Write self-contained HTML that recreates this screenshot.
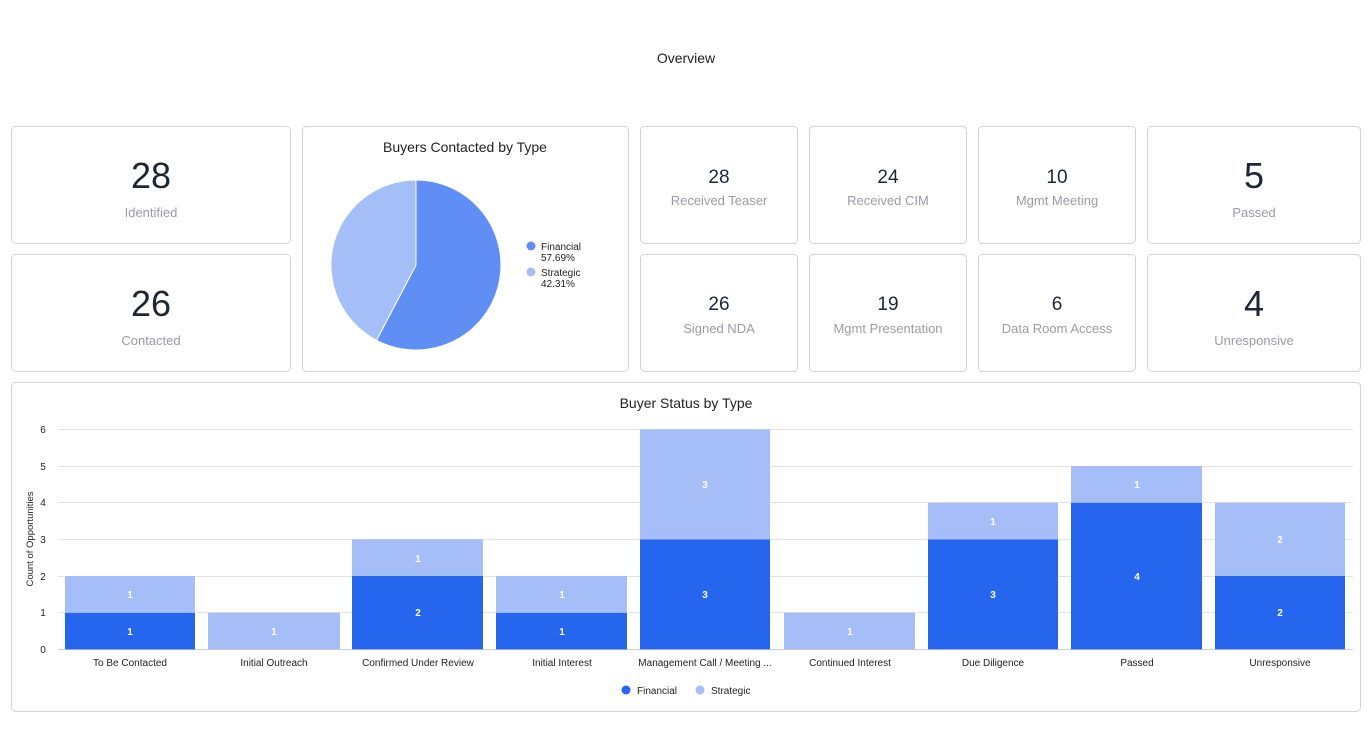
<!DOCTYPE html>
<html><head><meta charset="utf-8"><style>
html,body{margin:0;padding:0;background:#fff;}
svg{display:block;font-family:"Liberation Sans",sans-serif;}
</style></head><body>
<svg width="1372" height="756" viewBox="0 0 1372 756">
<text x="686" y="63" text-anchor="middle" font-size="14" fill="#222">Overview</text>
<g fill="#fff" stroke="#d3d3d3" stroke-width="1">
<rect x="11.5" y="126.5" width="279" height="117" rx="4"/>
<rect x="11.5" y="254.5" width="279" height="117" rx="4"/>
<rect x="302.5" y="126.5" width="326" height="245" rx="4"/>
<rect x="640.5" y="126.5" width="157" height="117" rx="4"/>
<rect x="809.5" y="126.5" width="157" height="117" rx="4"/>
<rect x="978.5" y="126.5" width="157" height="117" rx="4"/>
<rect x="1147.5" y="126.5" width="213" height="117" rx="4"/>
<rect x="640.5" y="254.5" width="157" height="117" rx="4"/>
<rect x="809.5" y="254.5" width="157" height="117" rx="4"/>
<rect x="978.5" y="254.5" width="157" height="117" rx="4"/>
<rect x="1147.5" y="254.5" width="213" height="117" rx="4"/>
<rect x="11.5" y="382.5" width="1349" height="329" rx="4"/>
</g>
<g text-anchor="middle" fill="#1f2633">
<text x="151" y="188" font-size="36">28</text>
<text x="151" y="316" font-size="36">26</text>
<text x="1254" y="188" font-size="36">5</text>
<text x="1254" y="316" font-size="36">4</text>
<text x="719" y="183" font-size="19">28</text>
<text x="888" y="183" font-size="19">24</text>
<text x="1057" y="183" font-size="19">10</text>
<text x="719" y="310" font-size="19">26</text>
<text x="888" y="310" font-size="19">19</text>
<text x="1057" y="310" font-size="19">6</text>
</g>
<g text-anchor="middle" fill="#9a9ca3" font-size="13">
<text x="151" y="217">Identified</text>
<text x="151" y="345">Contacted</text>
<text x="1254" y="217">Passed</text>
<text x="1254" y="345">Unresponsive</text>
<text x="719" y="205">Received Teaser</text>
<text x="888" y="205">Received CIM</text>
<text x="1057" y="205">Mgmt Meeting</text>
<text x="719" y="333">Signed NDA</text>
<text x="888" y="333">Mgmt Presentation</text>
<text x="1057" y="333">Data Room Access</text>
</g>
<text x="465" y="152" text-anchor="middle" font-size="14" fill="#222">Buyers Contacted by Type</text>
<path d="M416 265 L416 180 A85 85 0 1 1 376.5 340.3 Z" fill="#5f8ef5" stroke="#fff" stroke-width="1"/>
<path d="M416 265 L376.5 340.3 A85 85 0 0 1 416 180 Z" fill="#a4bff8" stroke="#fff" stroke-width="1"/>
<circle cx="531" cy="246" r="4.5" fill="#5f8ef5"/>
<circle cx="531" cy="272" r="4.5" fill="#a4bff8"/>
<g font-size="10" fill="#222">
<text x="541" y="250">Financial</text><text x="541" y="261">57.69%</text>
<text x="541" y="276">Strategic</text><text x="541" y="287">42.31%</text>
</g>
<text x="686" y="408" text-anchor="middle" font-size="14" fill="#222">Buyer Status by Type</text>
<g stroke="#e3e3e3" stroke-width="1">
<line x1="58" x2="1353" y1="429.5" y2="429.5"/>
<line x1="58" x2="1353" y1="466.5" y2="466.5"/>
<line x1="58" x2="1353" y1="502.5" y2="502.5"/>
<line x1="58" x2="1353" y1="539.5" y2="539.5"/>
<line x1="58" x2="1353" y1="576.5" y2="576.5"/>
<line x1="58" x2="1353" y1="612.5" y2="612.5"/>
<line x1="58" x2="1353" y1="649.5" y2="649.5" stroke="#ccd"/>
</g>
<g font-size="10" fill="#222" text-anchor="middle">
<text x="43" y="433">6</text><text x="43" y="470">5</text><text x="43" y="506">4</text>
<text x="43" y="543">3</text><text x="43" y="580">2</text><text x="43" y="616">1</text><text x="43" y="653">0</text>
</g>
<text transform="translate(33 539) rotate(-90)" text-anchor="middle" font-size="9.5" fill="#222">Count of Opportunities</text>
<g id="bars">
<rect x="65" y="612.7" width="130" height="36.7" fill="#2666ee"/><rect x="65" y="576" width="130" height="36.7" fill="#a6bef7"/>
<rect x="208" y="612.7" width="132" height="36.7" fill="#a6bef7"/>
<rect x="352" y="576" width="131" height="73.3" fill="#2666ee"/><rect x="352" y="539.3" width="131" height="36.7" fill="#a6bef7"/>
<rect x="496" y="612.7" width="131" height="36.7" fill="#2666ee"/><rect x="496" y="576" width="131" height="36.7" fill="#a6bef7"/>
<rect x="640" y="539.3" width="130" height="110" fill="#2666ee"/><rect x="640" y="429.3" width="130" height="110" fill="#a6bef7"/>
<rect x="784" y="612.7" width="131" height="36.7" fill="#a6bef7"/>
<rect x="928" y="539.3" width="130" height="110" fill="#2666ee"/><rect x="928" y="502.7" width="130" height="36.7" fill="#a6bef7"/>
<rect x="1071" y="502.7" width="131" height="146.7" fill="#2666ee"/><rect x="1071" y="466" width="131" height="36.7" fill="#a6bef7"/>
<rect x="1215" y="576" width="130" height="73.3" fill="#2666ee"/><rect x="1215" y="502.7" width="130" height="73.3" fill="#a6bef7"/>
</g>
<g font-size="10" font-weight="bold" fill="#fff" text-anchor="middle">
<text x="130" y="635">1</text><text x="130" y="598">1</text>
<text x="274" y="635">1</text>
<text x="418" y="616">2</text><text x="418" y="562">1</text>
<text x="562" y="635">1</text><text x="562" y="598">1</text>
<text x="705" y="598">3</text><text x="705" y="488">3</text>
<text x="850" y="635">1</text>
<text x="993" y="598">3</text><text x="993" y="525">1</text>
<text x="1137" y="580">4</text><text x="1137" y="488">1</text>
<text x="1280" y="616">2</text><text x="1280" y="543">2</text>
</g>
<g font-size="10" fill="#222" text-anchor="middle">
<text x="130" y="666">To Be Contacted</text>
<text x="274" y="666">Initial Outreach</text>
<text x="418" y="666">Confirmed Under Review</text>
<text x="562" y="666">Initial Interest</text>
<text x="705" y="666">Management Call / Meeting ...</text>
<text x="850" y="666">Continued Interest</text>
<text x="993" y="666">Due Diligence</text>
<text x="1137" y="666">Passed</text>
<text x="1280" y="666">Unresponsive</text>
</g>
<circle cx="626" cy="690" r="4.5" fill="#2666ee"/>
<circle cx="700" cy="690" r="4.5" fill="#a6bef7"/>
<g font-size="10" fill="#222">
<text x="637" y="694">Financial</text>
<text x="711" y="694">Strategic</text>
</g>
</svg>
</body></html>
